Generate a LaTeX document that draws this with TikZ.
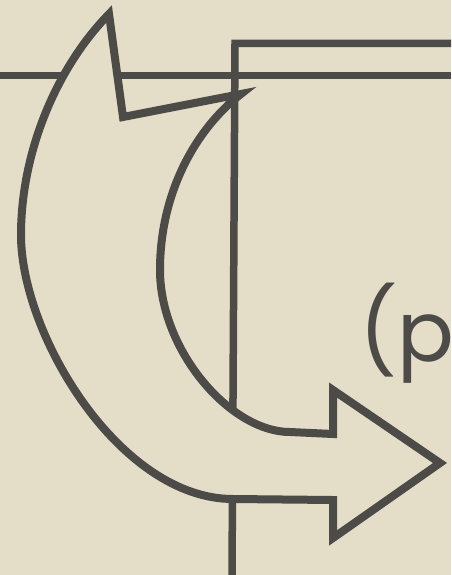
\documentclass[tikz,border=0pt]{standalone}
\usepackage{fontspec}
\newfontfamily\pfont{Poppins}
\definecolor{paper}{HTML}{E4DDC8}
\definecolor{ink}{HTML}{4D4B48}
\tikzset{
  rule/.style={draw=ink,line width=7.5pt,line cap=butt},
  bigarrow/.style={draw=ink,fill=paper,line width=8pt,line join=miter,miter limit=10},
  label/.style={text=ink,font=\pfont\fontsize{84}{86}\selectfont,inner sep=0pt}
}
\begin{document}
\begin{tikzpicture}[x=1pt,y=-1pt]
\fill[paper] (0,0) rectangle (451,575);
\useasboundingbox (0,0) rectangle (451,575);
% rules
\coordinate (hl) at (0,75.5);
\coordinate (hr) at (451,75.5);
\coordinate (vt) at (235,43.5);
\coordinate (vb) at (232,575);
\coordinate (tr) at (451,43.5);
\draw[rule] (hl) -- (hr);
\draw[rule,line join=miter] (tr) -- (vt) -- (vb);
% the arrow
\coordinate (tip) at (109,14);
\coordinate (o1) at (21,235);
\coordinate (o2) at (233,499);
\coordinate (b1) at (333,500);
\coordinate (b2) at (333,538);
\coordinate (rtip) at (440,463);
\coordinate (b3) at (333,390);
\coordinate (b4) at (333,434);
\coordinate (i1) at (290,432);
\coordinate (i2) at (160,270);
\coordinate (barb) at (241,94);
\coordinate (notch) at (123,117);
\filldraw[bigarrow] (tip) .. controls (58,66) and (21,150) .. (o1)
  .. controls (21,335) and (120,499) .. (o2)
  -- (b1) -- (b2) -- (rtip) -- (b3) -- (b4) -- (i1)
  .. controls (230,432) and (160,350) .. (i2)
  .. controls (160,190) and (198,127) .. (barb)
  -- (notch) -- cycle;
\node[label,anchor=base west] (txt) at (359,361) {(p};
\end{tikzpicture}
\end{document}
